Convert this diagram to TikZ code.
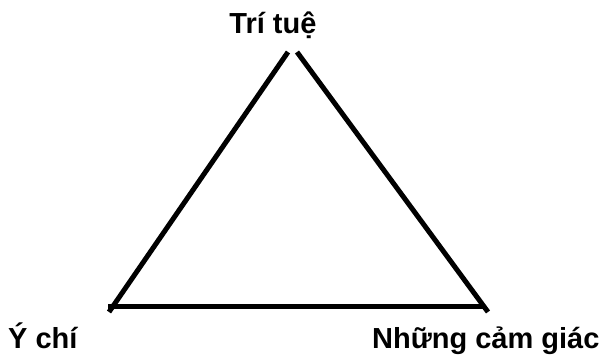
\documentclass[tikz,border=0pt]{standalone}
\usepackage{fontspec}
\setmainfont{Liberation Sans}
\begin{document}
\begin{tikzpicture}[x=1pt,y=-1pt,
  edge/.style={line width=5pt,draw=black},
  lbl/.style={font=\fontsize{29}{32}\selectfont\bfseries,inner sep=0pt}]
\useasboundingbox (0,0) rectangle (600,357);
\coordinate (lt) at (288,52);
\coordinate (lb) at (109,312);
\coordinate (rt) at (297,52);
\coordinate (rb) at (488,312);
\coordinate (bl) at (108,306);
\coordinate (br) at (485,306);
\draw[edge] (lt) -- (lb);
\draw[edge] (rt) -- (rb);
\draw[edge] (bl) -- (br);
\node[lbl,anchor=base] (top) at (273,33) {Trí tuệ};
\node[lbl,anchor=base west] (left) at (8,348) {Ý chí};
\node[lbl,anchor=base west] (right) at (372,348) {Những cảm giác};
\end{tikzpicture}
\end{document}
